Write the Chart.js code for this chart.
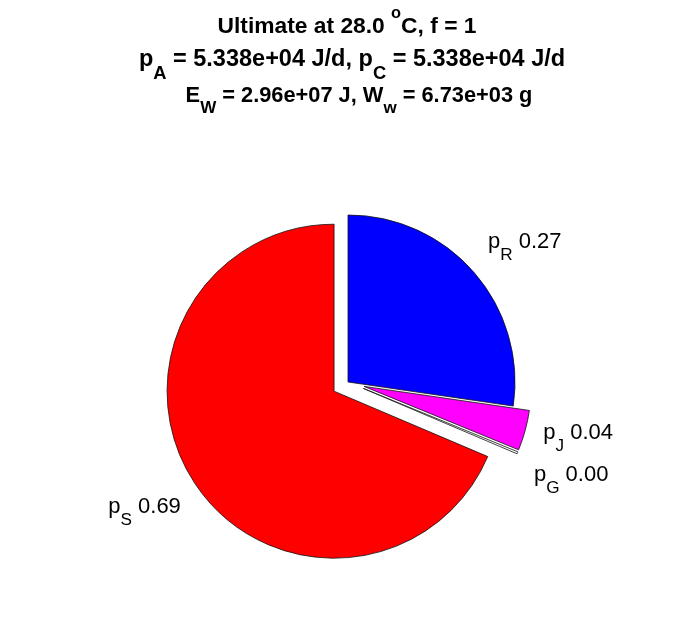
<!DOCTYPE html>
<html>
<head>
<meta charset="utf-8">
<script src="https://cdn.jsdelivr.net/npm/chart.js@4.4.1/dist/chart.umd.min.js"></script>
<style>
  html, body { margin: 0; padding: 0; background: #fff; }
  #wrap { width: 696px; height: 618px; position: relative; }
</style>
</head>
<body>
<div id="wrap"><canvas id="pieChart" width="696" height="618"></canvas></div>
<script>
// slice data (clockwise from top)
const sliceKeys = ['R', 'J', 'G', 'S'];
const sliceValues = [0.273, 0.039, 0.002, 0.686];
const sliceColors = ['#0000ff', '#ff00ff', '#ffffff', '#ff0000'];
const explodeFlags = [0, 1, 1, 1];

// title, tex-ish: _x = subscript, ^x = superscript
const titleLines = [
  'Ultimate at 28.0 ^oC, f = 1',
  'p_A = 5.338e+04 J/d, p_C = 5.338e+04 J/d',
  'E_W = 2.96e+07 J, W_w = 6.73e+03 g'
];

const FONT = '"Liberation Sans", Arial, Helvetica, sans-serif';
const pieRadius = 167;
const explodeFrac = 0.1;   // like matlab explode

function parseTex(str) {
  var segs = [], buf = '';
  for (var i = 0; i < str.length; i++) {
    var c = str[i];
    if ((c === '_' || c === '^') && i + 1 < str.length) {
      if (buf) segs.push({t: buf});
      buf = '';
      segs.push({t: str[i + 1], sub: c === '_', sup: c === '^'});
      i++;
    } else {
      buf += c;
    }
  }
  if (buf) segs.push({t: buf});
  return segs;
}

function drawRich(ctx, str, x, y, fs, weight, align) {
  var parts = parseTex(str).map(function(s) {
    var size = s.sub ? fs * 0.78 : (s.sup ? fs * 0.72 : fs);
    ctx.font = weight + ' ' + size + 'px ' + FONT;
    return {t: s.t, size: size, w: ctx.measureText(s.t).width,
            dy: s.sub ? fs * 0.55 : (s.sup ? -fs * 0.66 : 0)};
  });
  var total = parts.reduce(function(a, p) { return a + p.w; }, 0);
  var cx = align === 'left' ? x : (align === 'right' ? x - total : x - total / 2);
  ctx.textAlign = 'left';
  ctx.textBaseline = 'alphabetic';
  parts.forEach(function(p) {
    ctx.font = weight + ' ' + p.size + 'px ' + FONT;
    ctx.fillText(p.t, cx, y + p.dy);
    cx += p.w;
  });
}

// move exploded slices out along their bisector (radius unchanged)
const explode = {
  id: 'explode',
  beforeDatasetsDraw: function(chart) {
    var a = chart.chartArea;
    var cx = (a.left + a.right) / 2, cy = (a.top + a.bottom) / 2;
    chart.getDatasetMeta(0).data.forEach(function(arc, i) {
      var mid = (arc.startAngle + arc.endAngle) / 2;
      var d = explodeFlags[i] ? arc.outerRadius * explodeFrac : 0;
      arc.x = cx + Math.cos(mid) * d;
      arc.y = cy + Math.sin(mid) * d;
    });
  }
};

const pieText = {
  id: 'pieText',
  afterDraw: function(chart, args, opts) {
    var ctx = chart.ctx;
    ctx.save();
    ctx.fillStyle = '#000';
    titleLines.forEach(function(line, i) {
      drawRich(ctx, line, opts.titleX[i], opts.titleBase[i], opts.titleSize[i], 'bold', 'center');
    });
    chart.getDatasetMeta(0).data.forEach(function(arc, i) {
      var mid = (arc.startAngle + arc.endAngle) / 2;
      var r = arc.outerRadius * 1.1;
      var nudge = opts.labelNudge[i];
      var txt = 'p_' + sliceKeys[i] + ' ' + sliceValues[i].toFixed(2);
      drawRich(ctx, txt, arc.x + Math.cos(mid) * r + nudge[0], arc.y + Math.sin(mid) * r + nudge[1],
               opts.labelSize, 'normal', Math.cos(mid) >= 0 ? 'left' : 'right');
    });
    ctx.restore();
  }
};

new Chart(document.getElementById('pieChart').getContext('2d'), {
  type: 'pie',
  data: {
    labels: sliceKeys.map(function(k) { return 'p_' + k; }),
    datasets: [{
      data: sliceValues,
      backgroundColor: sliceColors,
      borderColor: '#111',
      borderWidth: 0.8,
      borderJoinStyle: 'miter'
    }]
  },
  options: {
    responsive: false,
    animation: false,
    events: [],
    radius: pieRadius,
    layout: { padding: { top: 150, bottom: 4, left: 0, right: 0 } },
    plugins: {
      legend: { display: false },
      title: { display: false },
      tooltip: { enabled: false },
      pieText: {
        titleX: [347, 352, 359],
        titleBase: [33, 66, 101.5],
        titleSize: [22.8, 23.5, 21.8],
        labelSize: 22,
        labelNudge: [[1, -14], [2, 4], [1, 22], [0, 20]]
      }
    }
  },
  plugins: [explode, pieText]
});
</script>
</body>
</html>
